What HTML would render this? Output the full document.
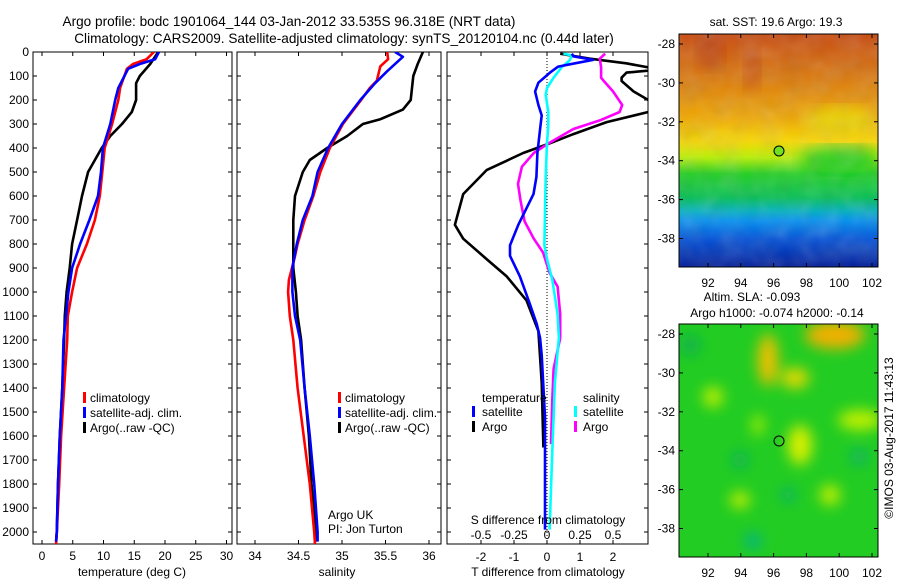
<!DOCTYPE html>
<html><head><meta charset="utf-8"><style>
html,body{margin:0;padding:0;background:#fff}
svg{display:block;font-family:"Liberation Sans",sans-serif}
text{fill:#000}
</style></head><body>
<svg id="c" width="900" height="580" viewBox="0 0 900 580" xmlns="http://www.w3.org/2000/svg">
<defs>
<clipPath id="cp1"><rect x="33" y="52" width="199" height="492"/></clipPath>
<clipPath id="cp2"><rect x="237" y="52" width="204" height="492"/></clipPath>
<clipPath id="cp3"><rect x="447" y="52" width="201" height="492"/></clipPath>
<clipPath id="cpm1"><rect x="679" y="34" width="199" height="233"/></clipPath>
<clipPath id="cpm2"><rect x="679" y="324" width="199" height="233"/></clipPath>
<linearGradient id="sst" x1="0" y1="0" x2="0" y2="1">
<stop offset="0" stop-color="#c84a10"/><stop offset="0.2" stop-color="#dc7a08"/>
<stop offset="0.36" stop-color="#f0a800"/><stop offset="0.46" stop-color="#f8d800"/>
<stop offset="0.53" stop-color="#b8f000"/><stop offset="0.6" stop-color="#20d020"/>
<stop offset="0.7" stop-color="#00c050"/><stop offset="0.76" stop-color="#00b0c0"/>
<stop offset="0.8" stop-color="#0090f0"/><stop offset="0.88" stop-color="#0050d8"/>
<stop offset="1" stop-color="#001a98"/></linearGradient>
<filter id="tex" x="0" y="0" width="1" height="1"><feTurbulence type="fractalNoise" baseFrequency="0.05" numOctaves="2" seed="3"/><feColorMatrix type="saturate" values="0"/><feComponentTransfer><feFuncA type="table" tableValues="0 0.25"/></feComponentTransfer></filter>
<filter id="blur"><feGaussianBlur stdDeviation="7"/></filter>
</defs>

<g font-size="13.6" text-anchor="middle">
<text x="289" y="26">Argo profile: bodc 1901064_144 03-Jan-2012 33.535S 96.318E (NRT data)</text>
<text x="344" y="43">Climatology: CARS2009. Satellite-adjusted climatology: synTS_20120104.nc (0.44d later)</text>
</g>

<g id="frames"></g>
<g id="series"></g>

<g font-size="12">
<rect x="83" y="392" width="3" height="11" fill="#f00"/><text x="90" y="402">climatology</text>
<rect x="83" y="407" width="3" height="11" fill="#00f"/><text x="90" y="417">satellite-adj. clim.</text>
<rect x="83" y="422" width="3" height="11" fill="#000"/><text x="90" y="432">Argo(..raw -QC)</text>
</g>
<g font-size="12">
<rect x="338" y="392" width="3" height="11" fill="#f00"/><text x="345" y="402">climatology</text>
<rect x="338" y="407" width="3" height="11" fill="#00f"/><text x="345" y="417">satellite-adj. clim.</text>
<rect x="338" y="422" width="3" height="11" fill="#000"/><text x="345" y="432">Argo(..raw -QC)</text>
</g>
<g font-size="12">
<text x="482" y="402">temperature</text>
<rect x="472" y="406" width="3" height="11" fill="#00f"/><text x="482" y="416">satellite</text>
<rect x="472" y="421" width="3" height="11" fill="#000"/><text x="482" y="431">Argo</text>
<text x="583" y="402">salinity</text>
<rect x="574" y="406" width="3" height="11" fill="#0ff"/><text x="583" y="416">satellite</text>
<rect x="574" y="421" width="3" height="11" fill="#f0f"/><text x="583" y="431">Argo</text>
</g>
<g font-size="12">
<text x="328" y="519">Argo UK</text><text x="328" y="533">PI: Jon Turton</text>
</g>
<g font-size="12" text-anchor="middle">
<text x="132" y="576">temperature (deg C)</text>
<text x="337" y="576">salinity</text>
<text x="548" y="524">S difference from climatology</text>
<text x="548" y="576">T difference from climatology</text>
</g>

<g>
<g clip-path="url(#cpm1)">
<rect x="679" y="34" width="199" height="233" fill="url(#sst)"/>
<ellipse cx="710" cy="50" rx="14" ry="20" fill="#b83a10" opacity="0.6" filter="url(#blur)"/>
<ellipse cx="752" cy="68" rx="8" ry="25" fill="#c04010" opacity="0.6" filter="url(#blur)"/>
<ellipse cx="840" cy="120" rx="35" ry="14" fill="#e8e000" opacity="0.7" filter="url(#blur)"/>
<ellipse cx="840" cy="160" rx="40" ry="14" fill="#10c820" opacity="0.8" filter="url(#blur)"/>
<ellipse cx="715" cy="140" rx="30" ry="8" fill="#f0d000" opacity="0.7" filter="url(#blur)"/>
<rect x="679" y="34" width="199" height="233" filter="url(#tex)"/>
</g>
<rect x="679" y="34" width="199" height="233" fill="none" stroke="#000" stroke-width="1"/>
<circle cx="779" cy="151" r="5" fill="#70e020" stroke="#000"/>
<text x="776" y="26" font-size="12" text-anchor="middle">sat. SST: 19.6 Argo: 19.3</text>
</g>
<g>
<g clip-path="url(#cpm2)">
<rect x="679" y="324" width="199" height="233" fill="#22cc22"/>
<g filter="url(#blur)">
<ellipse cx="835" cy="335" rx="30" ry="14" fill="#f0b000"/>
<ellipse cx="768" cy="360" rx="10" ry="26" fill="#f0c000"/>
<ellipse cx="795" cy="378" rx="14" ry="10" fill="#e8d800"/>
<ellipse cx="800" cy="445" rx="12" ry="20" fill="#d8f000"/>
<ellipse cx="713" cy="397" rx="10" ry="10" fill="#c0f000"/>
<ellipse cx="860" cy="420" rx="22" ry="10" fill="#c0f000"/>
<ellipse cx="740" cy="500" rx="10" ry="8" fill="#c8f000"/>
<ellipse cx="830" cy="495" rx="10" ry="10" fill="#c8f000"/>
<ellipse cx="758" cy="425" rx="6" ry="10" fill="#a8f000"/>
<ellipse cx="740" cy="460" rx="8" ry="8" fill="#10b060"/>
<ellipse cx="859" cy="457" rx="8" ry="8" fill="#10b070"/>
<ellipse cx="788" cy="495" rx="7" ry="7" fill="#10b070"/>
<ellipse cx="753" cy="541" rx="8" ry="8" fill="#00b090"/>
<ellipse cx="690" cy="345" rx="10" ry="10" fill="#10b050"/>
</g>
</g>
<rect x="679" y="324" width="199" height="233" fill="none" stroke="#000" stroke-width="1"/>
<circle cx="779" cy="441" r="5" fill="none" stroke="#000"/>
<text x="752" y="301" font-size="12" text-anchor="middle">Altim. SLA: -0.093</text>
<text x="777" y="317" font-size="12" text-anchor="middle">Argo h1000: -0.074 h2000: -0.14</text>
</g>
<text transform="translate(893,438) rotate(-90)" font-size="12" text-anchor="middle">©IMOS 03-Aug-2017 11:43:13</text>
<g id="mapaxes"></g>
</svg>

<script>
const depthTicks = [0,100,200,300,400,500,600,700,800,900,1000,1100,1200,1300,1400,1500,1600,1700,1800,1900,2000];
const tempTicks = [0,5,10,15,20,25,30];
const salTicks = [34,34.5,35,35.5,36];
const salTickLabels = ["34","34.5","35","35.5","36"];
const tDiffTicks = [-2,-1,0,1,2];
const sDiffTicks = [-0.5,-0.25,0,0.25,0.5];
const sDiffTickLabels = ["-0.5","-0.25","0","0.25","0.5"];
const latTicks = [-28,-30,-32,-34,-36,-38];
const lonTicks = [92,94,96,98,100,102];

const tempClimDepth = [0,30,50,70,150,200,300,400,500,600,700,800,900,1000,1100,1200,1400,1600,1800,2000,2050];
const tempClimVal = [18.2,17.0,14.8,13.8,12.7,12.4,11.4,10.2,9.8,9.4,8.6,7.3,5.7,4.9,4.2,4.1,3.6,3.1,2.8,2.4,2.3];
const tempSatDepth = [0,30,50,70,150,200,300,400,500,600,700,800,900,1000,1100,1200,1400,1600,1800,2000,2040];
const tempSatVal = [19.0,18.4,15.9,14.0,12.4,11.9,11.1,9.9,9.6,9.1,7.7,6.2,4.9,4.3,3.9,3.5,3.3,2.9,2.6,2.4,2.3];
const tempArgoDepth = [0,50,100,130,200,250,300,350,400,450,500,600,700,800,900,1000,1100,1200,1400,1600,1800,2000,2040];
const tempArgoVal = [18.9,17.6,15.9,15.3,15.3,14.6,13.0,11.1,9.7,8.6,7.5,6.5,5.7,4.9,4.5,4.0,3.7,3.6,3.3,2.9,2.6,2.4,2.3];

const salClimDepth = [0,30,60,120,150,200,300,400,500,600,700,800,850,950,1000,1100,1200,1400,1600,1800,2000,2050];
const salClimVal = [35.52,35.53,35.44,35.40,35.32,35.22,35.01,34.86,34.75,34.67,34.57,34.49,34.46,34.39,34.38,34.40,34.44,34.49,34.56,34.63,34.68,34.69];
const salSatDepth = [0,20,40,80,130,200,300,400,500,600,700,800,900,1000,1100,1200,1400,1600,1800,2000,2040];
const salSatVal = [35.61,35.70,35.64,35.52,35.38,35.21,35.00,34.84,34.72,34.66,34.55,34.48,34.43,34.43,34.46,34.52,34.57,34.63,34.68,34.72,34.72];
const salArgoDepth = [0,50,100,200,240,280,300,350,400,450,500,600,700,800,900,1000,1100,1200,1400,1600,1800,2000,2040];
const salArgoVal = [35.93,35.87,35.82,35.79,35.70,35.44,35.24,35.06,34.83,34.63,34.55,34.46,34.44,34.44,34.44,34.47,34.49,34.53,34.57,34.62,34.65,34.70,34.70];

const tDiffArgoDepth = [7,14,28,47,64,75,86,107,121,164,200,224,250,292,342,385,421,492,592,720,778,863,935,1035,1163,1377,1648];
const tDiffArgoVal = [0.4,0.7,1.3,2.4,3.07,3.3,2.41,2.26,2.26,2.62,3.07,3.5,3.07,1.81,0.8,0,-0.72,-1.83,-2.54,-2.79,-2.54,-1.83,-1.22,-0.62,-0.26,-0.16,-0.11];
const tDiffSatDepth = [7,18,33,47,61,86,128,164,221,264,321,421,521,592,720,806,849,935,1049,1134,1192,1263,1520,1990];
const tDiffSatVal = [0.75,0.8,1.4,0.85,0.34,0.09,-0.26,-0.36,-0.26,-0.16,-0.21,-0.29,-0.32,-0.41,-0.87,-1.12,-1.12,-0.82,-0.52,-0.31,-0.21,-0.16,-0.06,-0.06];
const sDiffSatDepth = [7,14,36,64,107,150,178,250,307,378,521,806,863,949,1092,1192,1377,1662,1990];
const sDiffSatVal = [0.124,0.19,0.17,0.11,0.05,0,-0.01,0.01,0.01,0,-0.01,-0.02,0,0.04,0.08,0.09,0.06,0.04,0.02];
const sDiffArgoDepth = [7,28,64,107,121,164,221,250,285,321,378,421,478,549,621,706,778,835,920,978,1092,1192,1320,1448,1634];
const sDiffArgoVal = [0.44,0.40,0.41,0.41,0.43,0.5,0.57,0.55,0.40,0.2,0.02,-0.1,-0.19,-0.22,-0.2,-0.17,-0.1,-0.03,0.02,0.08,0.1,0.1,0.05,0.04,0.03];

const Y0 = 52, Y1 = 544;
function yD(d){ return 52 + d*0.24; }
function xT(t){ return 42 + t*6.15; }
function xS(s){ return 255 + (s-34)*87; }
function xTd(t){ return 547 + t*33; }
function xSd(s){ return 547 + s*132; }
function xLon(l){ return 708 + (l-92)*16.4; }
function yLat1(l){ return 44 + (-28-l)*19.45; }
function yLat2(l){ return 334 + (-28-l)*19.45; }

const NS = "http://www.w3.org/2000/svg";
function mk(tag, attrs, parent){ const e=document.createElementNS(NS,tag); for(const k in attrs) e.setAttribute(k,attrs[k]); parent.appendChild(e); return e; }

const frames = document.getElementById('frames');
const series = document.getElementById('series');
const mapaxes = document.getElementById('mapaxes');

const panels = [
  {x0:33,x1:232,name:'temperature-panel',ticks:tempTicks,labels:tempTicks.map(String),sx:xT,ly:560},
  {x0:237,x1:441,name:'salinity-panel',ticks:salTicks,labels:salTickLabels,sx:xS,ly:560},
  {x0:447,x1:648,name:'difference-panel',ticks:tDiffTicks,labels:tDiffTicks.map(String),sx:xTd,ly:561}
];
panels.forEach(function(p,i){
  const g = mk('g',{},frames);
  
  
  mk('rect',{x:p.x0,y:Y0,width:p.x1-p.x0,height:Y1-Y0,fill:'none',stroke:'#000','stroke-width':1},g);
  depthTicks.forEach(function(d){
    const y = yD(d);
    mk('line',{x1:p.x0,y1:y,x2:p.x0+4,y2:y,stroke:'#000'},g);
    mk('line',{x1:p.x1,y1:y,x2:p.x1-4,y2:y,stroke:'#000'},g);
    if(i===0){
      const t = mk('text',{x:29,y:y+4,'font-size':12,'text-anchor':'end'},g);
      t.textContent = d;
      
      
    }
  });
  p.ticks.forEach(function(v,j){
    const x = p.sx(v);
    mk('line',{x1:x,y1:Y1,x2:x,y2:Y1-4,stroke:'#000'},g);
    mk('line',{x1:x,y1:Y0,x2:x,y2:Y0+4,stroke:'#000'},g);
    const t = mk('text',{x:x,y:p.ly,'font-size':12,'text-anchor':'middle'},g);
    t.textContent = p.labels[j];
    
    
  });
});
sDiffTicks.forEach(function(v,j){
  const t = mk('text',{x:xSd(v),y:539,'font-size':12,'text-anchor':'middle'},frames);
  t.textContent = sDiffTickLabels[j];
  
  
});
const zl = mk('line',{x1:xTd(0),y1:Y0,x2:xTd(0),y2:Y1,stroke:'#000','stroke-dasharray':'1,2'},frames);



function drawLine(depths, vals, sx, color, clip, name){
  let d='';
  for(let i=0;i<depths.length;i++){ d += (i?'L':'M') + sx(vals[i]).toFixed(1) + ',' + yD(depths[i]).toFixed(1); }
  const p = mk('path',{d:d,fill:'none',stroke:color,'stroke-width':2.6,'stroke-linejoin':'round','clip-path':'url(#'+clip+')'},series);
  
  
}
drawLine(tempArgoDepth,tempArgoVal,xT,'#000','cp1','temp-argo-line');
drawLine(tempClimDepth,tempClimVal,xT,'#f00','cp1','temp-climatology-line');
drawLine(tempSatDepth,tempSatVal,xT,'#00f','cp1','temp-satellite-line');
drawLine(salArgoDepth,salArgoVal,xS,'#000','cp2','sal-argo-line');
drawLine(salClimDepth,salClimVal,xS,'#f00','cp2','sal-climatology-line');
drawLine(salSatDepth,salSatVal,xS,'#00f','cp2','sal-satellite-line');
drawLine(tDiffArgoDepth,tDiffArgoVal,xTd,'#000','cp3','t-diff-argo-line');
drawLine(sDiffArgoDepth,sDiffArgoVal,xSd,'#f0f','cp3','s-diff-argo-line');
drawLine(sDiffSatDepth,sDiffSatVal,xSd,'#0ff','cp3','s-diff-satellite-line');
drawLine(tDiffSatDepth,tDiffSatVal,xTd,'#00f','cp3','t-diff-satellite-line');

[[yLat1,34,267,287],[yLat2,324,557,577]].forEach(function(m){
  latTicks.forEach(function(l){
    const y = m[0](l);
    mk('line',{x1:679,y1:y,x2:683,y2:y,stroke:'#000'},mapaxes);
    mk('line',{x1:878,y1:y,x2:874,y2:y,stroke:'#000'},mapaxes);
    const t = mk('text',{x:675,y:y+4,'font-size':12,'text-anchor':'end'},mapaxes);
    t.textContent = l;
    
    
  });
  lonTicks.forEach(function(l){
    const x = xLon(l);
    mk('line',{x1:x,y1:m[2],x2:x,y2:m[2]-4,stroke:'#000'},mapaxes);
    mk('line',{x1:x,y1:m[1],x2:x,y2:m[1]+4,stroke:'#000'},mapaxes);
    const t = mk('text',{x:x,y:m[3],'font-size':12,'text-anchor':'middle'},mapaxes);
    t.textContent = l;
    
    
  });
});
</script>
</body></html>
